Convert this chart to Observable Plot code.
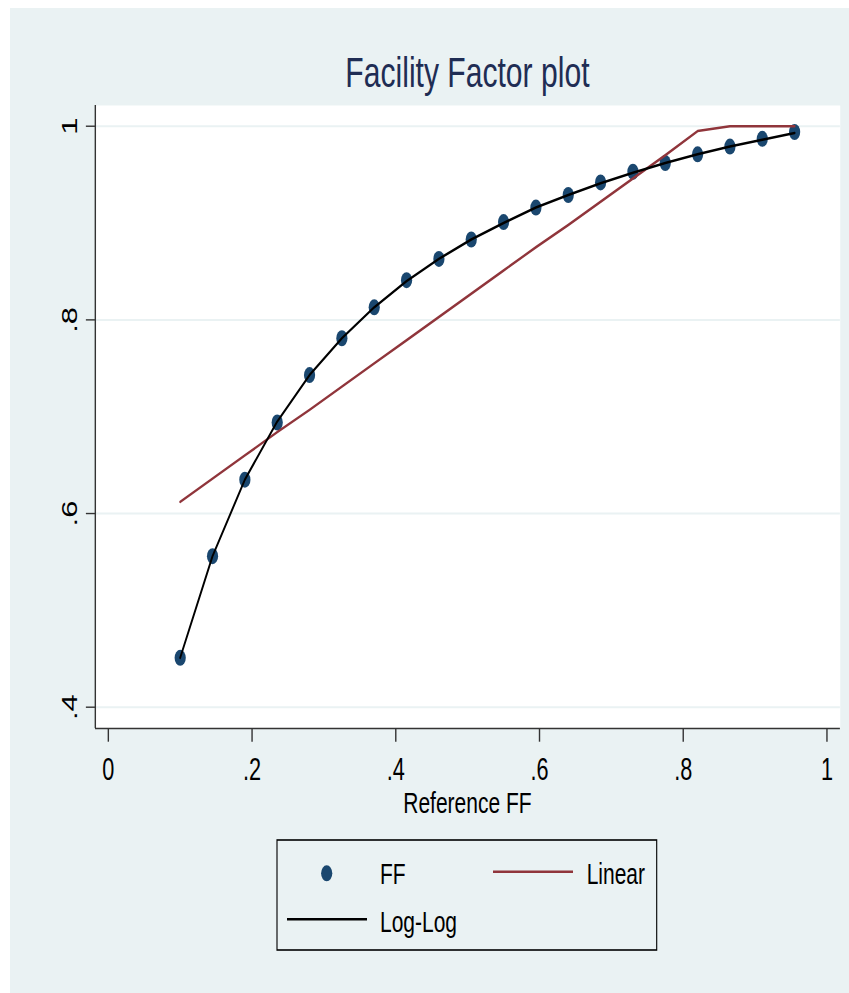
<!DOCTYPE html>
<html>
<head>
<meta charset="utf-8">
<script src="https://cdn.jsdelivr.net/npm/d3@7"></script>
<script src="https://cdn.jsdelivr.net/npm/@observablehq/plot@0.6"></script>
<style>
  html, body { margin: 0; padding: 0; background: #ffffff; }
  #chart svg { position: absolute; left: 0; top: 0; }
</style>
</head>
<body>
<div id="chart"></div>
<script>
// ---------- data ----------
const refFF = [0.1, 0.145, 0.19, 0.235, 0.28, 0.325, 0.37, 0.415, 0.46, 0.505,
               0.55, 0.595, 0.64, 0.685, 0.73, 0.775, 0.82, 0.865, 0.91, 0.955];
const ffValues = [0.451, 0.556, 0.635, 0.694, 0.743, 0.781, 0.813, 0.841, 0.863, 0.883,
                  0.901, 0.916, 0.929, 0.942, 0.953, 0.962, 0.971, 0.979, 0.987, 0.994];
const linearValues = [0.612, 0.636, 0.660, 0.684, 0.707, 0.731, 0.755, 0.779, 0.803, 0.827,
                      0.851, 0.875, 0.898, 0.922, 0.946, 0.970, 0.995, 1.0, 1.0, 1.0];
const loglogValues = [0.451, 0.556, 0.635, 0.695, 0.743, 0.781, 0.813, 0.840, 0.863, 0.883,
                      0.900, 0.916, 0.929, 0.941, 0.952, 0.962, 0.971, 0.979, 0.986, 0.993];
const xTicks = [0, 0.2, 0.4, 0.6, 0.8, 1];
const xTickLabels = ["0", ".2", ".4", ".6", ".8", "1"];
const yTicks = [0.4, 0.6, 0.8, 1];
const yTickLabels = [".4", ".6", ".8", "1"];
const seriesNames = ["FF", "Linear", "Log-Log"];
const titleText = "Facility Factor plot";
const xLabel = "Reference FF";

// ---------- build tables ----------
const ffData = refFF.map((x, i) => ({x, y: ffValues[i]}));
const linData = refFF.map((x, i) => ({x, y: linearValues[i]}));
const llData = refFF.map((x, i) => ({x, y: loglogValues[i]}));

// ---------- layout (virtual units; picture is squeezed horizontally) ----------
const W = 1213, H = 993;
const s = 849 / W;
const bgCol = "#EAF2F3";
const navy = "#1A476F", maroon = "#90353B";
const font = "'Liberation Sans', Arial, Helvetica, sans-serif";
const xDomain = [-0.0181, 1.0185];
const yDomain = [0.378, 1.0214];
const tickFont = 31;

const chart = Plot.plot({
  width: W, height: H,
  marginTop: 105, marginBottom: 265, marginLeft: 135.7, marginRight: 13,
  style: {fontFamily: font, fontSize: tickFont + "px", background: "transparent", color: "#000", overflow: "visible"},
  x: {domain: xDomain, label: null},
  y: {domain: yDomain, label: null},
  marks: [
    Plot.frame({fill: "white", stroke: null}),
    Plot.gridY(yTicks, {stroke: bgCol, strokeOpacity: 1, strokeWidth: 2}),
    Plot.dot(ffData, {x: "x", y: "y", r: 8, fill: navy, stroke: null}),
    Plot.line(linData, {x: "x", y: "y", stroke: maroon, strokeWidth: 2.6}),
    Plot.line(llData, {x: "x", y: "y", stroke: "#000", strokeWidth: 2.6}),
    Plot.ruleX([xDomain[0]], {stroke: "#333", strokeWidth: 2}),
    Plot.ruleY([yDomain[0]], {stroke: "#333", strokeWidth: 1.4}),
    Plot.axisX(xTicks, {tickSize: 13.7, tickPadding: 16, stroke: "#333", strokeWidth: 2,
      tickFormat: d => xTickLabels[xTicks.indexOf(d)], fontSize: tickFont, fill: "#000", label: null}),
    Plot.axisY(yTicks, {tickSize: 13, tickPadding: 13, tickRotate: -90, stroke: "#333", strokeWidth: 1.4,
      tickFormat: d => yTickLabels[yTicks.indexOf(d)], fontSize: tickFont, fill: "#000", label: null})
  ]
});

chart.setAttribute("width", 849);
chart.setAttribute("height", H);
chart.setAttribute("viewBox", `0 0 ${W} ${H}`);
chart.setAttribute("preserveAspectRatio", "none");
chart.style.width = "849px";
chart.style.height = H + "px";
chart.style.maxWidth = "none";

const svg = d3.select(chart);
svg.selectAll('g[aria-label="x-axis tick label"], g[aria-label="y-axis tick label"]')
  .attr("font-size", tickFont)
  .selectAll("text").attr("font-size", null);

svg.insert("rect", ":first-child")
  .attr("x", 10 / s).attr("y", 8).attr("width", W).attr("height", H).attr("fill", bgCol);

const cx = (135.7 + (W - 13)) / 2;
svg.append("text").text(titleText)
  .attr("x", cx).attr("y", 86.7).attr("text-anchor", "middle")
  .attr("font-family", font).attr("font-size", 43).attr("fill", "#1F2D54");

svg.append("text").text(xLabel)
  .attr("x", cx).attr("y", 813.3).attr("text-anchor", "middle")
  .attr("font-family", font).attr("font-size", 30).attr("fill", "#000");

// legend
const lg = svg.append("g").attr("font-family", font).attr("font-size", 30)
  .attr("fill", "#000").attr("text-anchor", "start");
lg.append("rect").attr("x", 277 / s).attr("y", 840).attr("width", (656.7 - 277) / s).attr("height", 110)
  .attr("fill", "none").attr("stroke", "#000").attr("stroke-width", 1.6);
lg.append("ellipse").attr("cx", 326.7 / s).attr("cy", 873.3).attr("rx", 8).attr("ry", 8).attr("fill", navy);
lg.append("text").text(seriesNames[0]).attr("x", 380 / s).attr("y", 884);
lg.append("line").attr("x1", 493 / s).attr("x2", 573 / s).attr("y1", 871.7).attr("y2", 871.7)
  .attr("stroke", maroon).attr("stroke-width", 2.6);
lg.append("text").text(seriesNames[1]).attr("x", 586.7 / s).attr("y", 884);
lg.append("line").attr("x1", 287 / s).attr("x2", 367 / s).attr("y1", 919.3).attr("y2", 919.3)
  .attr("stroke", "#000").attr("stroke-width", 2.6);
lg.append("text").text(seriesNames[2]).attr("x", 380 / s).attr("y", 931.7);

document.getElementById("chart").appendChild(chart);
</script>
</body>
</html>
